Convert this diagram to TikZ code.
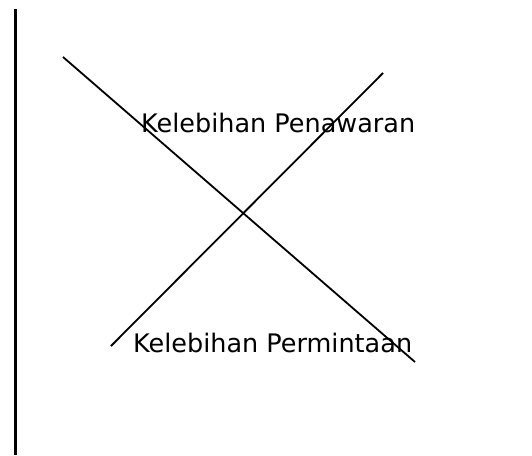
\documentclass[tikz,border=0pt]{standalone}
\usepackage{fontspec}
\setmainfont{DejaVu Sans}
\begin{document}
\begin{tikzpicture}[x=1pt,y=-1pt,
  axisline/.style={line width=2.8pt},
  curve/.style={line width=1.8pt},
  lbl/.style={anchor=base west,inner sep=0pt,font=\fontsize{25.5}{28}\selectfont}]
\useasboundingbox[fill=white] (0,0) rectangle (532,455);
\coordinate (ax1) at (15.5,9);
\coordinate (ax2) at (15.5,455);
\draw[axisline] (ax1) -- (ax2);
\coordinate (d1) at (63,57);
\coordinate (d2) at (415,362);
\coordinate (s1) at (111,346);
\coordinate (s2) at (383,73);
\draw[curve] (d1) -- (d2);
\draw[curve] (s1) -- (s2);
\node[lbl] (pen) at (141,132) {Kelebihan Penawaran};
\node[lbl] (per) at (133,352) {Kelebihan Permintaan};
\end{tikzpicture}
\end{document}
